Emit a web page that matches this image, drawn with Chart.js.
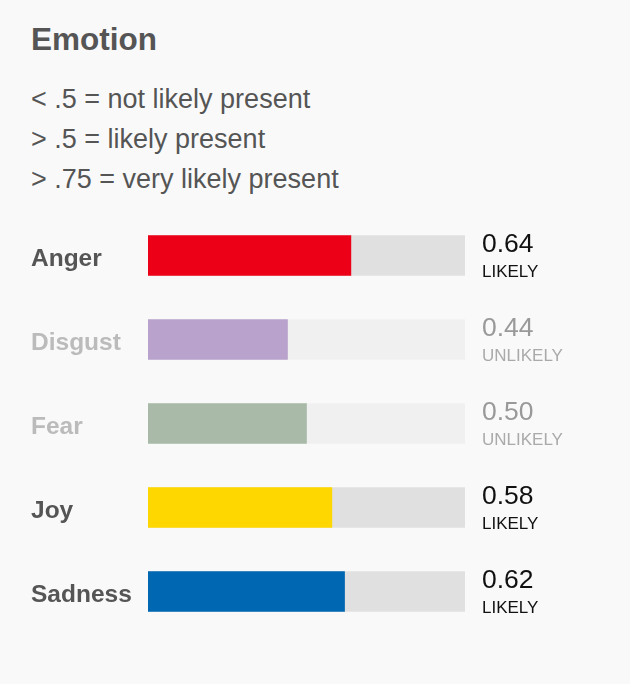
<!DOCTYPE html>
<html>
<head>
<meta charset="utf-8">
<script src="https://cdn.jsdelivr.net/npm/chart.js@4"></script>
<style>
  html, body { margin:0; padding:0; background:#f9f9f9; }
  body { width:630px; height:684px; position:relative; overflow:hidden; font-family:"Liberation Sans", Arial, sans-serif; }
  #title { position:absolute; left:31px; top:24px; font-size:31.5px; line-height:31px; font-weight:bold; color:#555; }
  #notes { position:absolute; left:31px; top:79px; font-size:27px; line-height:40px; color:#555; }
  #notes div { height:40px; }
  canvas { position:absolute; left:0; top:0; }
</style>
</head>
<body>
<div id="title">Emotion</div>
<div id="notes">
  <div>&lt; .5 = not likely present</div>
  <div>&gt; .5 = likely present</div>
  <div>&gt; .75 = very likely present</div>
</div>
<canvas id="c" width="630" height="684"></canvas>
<script>
const categories = ["Anger", "Disgust", "Fear", "Joy", "Sadness"];
const values = [0.64, 0.44, 0.50, 0.58, 0.62];
const maxValues = [1, 1, 1, 1, 1];
const statusLabels = ["LIKELY", "UNLIKELY", "UNLIKELY", "LIKELY", "LIKELY"];
const barColors = ["#ec0017", "#b9a3cc", "#a9bba8", "#ffd700", "#0068b2"];

const isLikely = i => statusLabels[i] === "LIKELY";
const FONT = '"Liberation Sans", Arial, sans-serif';

const rightLabels = {
  id: 'rightLabels',
  afterDatasetsDraw(chart) {
    const ctx = chart.ctx;
    const ys = chart.scales.y;
    const x = chart.chartArea.right + 17;
    ctx.save();
    ctx.textAlign = 'left';
    ctx.textBaseline = 'middle';
    values.forEach((v, i) => {
      const y = ys.getPixelForValue(i);
      ctx.fillStyle = isLikely(i) ? '#111' : '#999';
      ctx.font = '26.5px ' + FONT;
      ctx.fillText(v.toFixed(2), x, y - 10.5);
      ctx.fillStyle = isLikely(i) ? '#111' : '#aaa';
      ctx.font = '17px ' + FONT;
      ctx.fillText(statusLabels[i], x, y + 17);
    });
    ctx.restore();
  }
};

new Chart(document.getElementById('c'), {
  type: 'bar',
  data: {
    labels: categories,
    datasets: [
      { data: values, backgroundColor: barColors, barThickness: 40, grouped: false },
      { data: maxValues, backgroundColor: categories.map((c, i) => isLikely(i) ? '#e0e0e0' : '#f0f0f0'), barThickness: 40, grouped: false }
    ]
  },
  options: {
    indexAxis: 'y',
    responsive: false,
    animation: false,
    layout: { padding: { left: 31, right: 165, top: 213.5, bottom: 50.5 } },
    plugins: { legend: { display: false }, tooltip: { enabled: false } },
    scales: {
      x: { display: false, min: 0, max: 1 },
      y: {
        grid: { display: false },
        border: { display: false },
        afterFit(scale) { scale.width = 117; },
        ticks: {
          crossAlign: 'far',
          padding: 0,
          labelOffset: 3.5,
          font: { family: FONT, size: 24.5, weight: 'bold' },
          color: c => isLikely(c.index) ? '#555' : '#bbb'
        }
      }
    }
  },
  plugins: [rightLabels]
});
</script>
</body>
</html>
